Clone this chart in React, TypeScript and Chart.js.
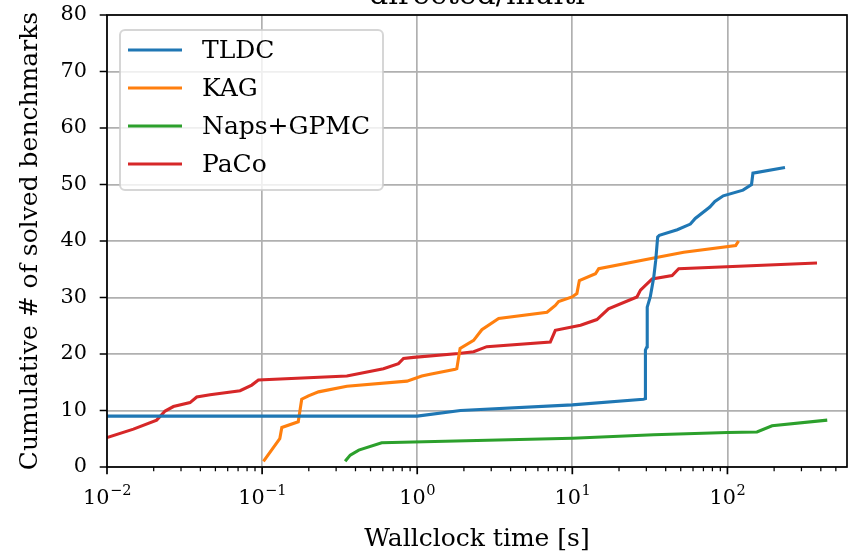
import React, { useEffect, useRef } from "react";
import { Chart, registerables } from "chart.js";

Chart.register(...registerables);

// Cumulative number of solved benchmarks over wallclock time (directed/multi)
const chartTitle = "directed/multi";
const xAxisTitle = "Wallclock time [s]";
const yAxisTitle = "Cumulative # of solved benchmarks";

const xMin = 0.01;
const xMax = 590;
const xMajorTicks = [0.01, 0.1, 1, 10, 100];
const yTicks = [0, 10, 20, 30, 40, 50, 60, 70, 80];

const seriesNames = ["TLDC", "KAG", "Naps+GPMC", "PaCo"];
const seriesColors = ["#1f77b4", "#ff7f0e", "#2ca02c", "#d62728"];

const tldcTime = [0.01, 1.0, 1.9, 10, 28.7, 29.6, 29.6, 30.3, 30.4, 31.8, 33.5, 34.5, 35.5, 36.4, 47.5, 57.7, 62, 77, 83, 94, 126, 143, 146, 235];
const tldcSolved = [9, 9, 10, 11, 12, 12.1, 20.7, 21.3, 28.3, 30.1, 33.6, 36.6, 40.7, 41, 42, 43, 44, 46, 47, 48, 49, 50, 52, 53];

const kagTime = [0.102, 0.13, 0.134, 0.171, 0.18, 0.199, 0.231, 0.352, 0.859, 1.07, 1.21, 1.76, 1.8, 1.89, 2.31, 2.61, 3.35, 6.87, 7.77, 8.16, 9.96, 10.7, 11.1, 14.1, 14.8, 36.9, 52.3, 113, 118];
const kagSolved = [1, 5, 7, 8, 12, 12.6, 13.3, 14.3, 15.2, 16.1, 16.4, 17.3, 17.4, 21, 22.4, 24.3, 26.3, 27.4, 28.6, 29.3, 30.1, 30.7, 33, 34.2, 35.1, 37.2, 38, 39.2, 40];

const napsTime = [0.343, 0.37, 0.42, 0.59, 10, 33.5, 100, 155, 194, 440];
const napsSolved = [1, 2.1, 3, 4.3, 5.1, 5.7, 6.1, 6.2, 7.3, 8.3];

const pacoTime = [0.01, 0.0148, 0.0209, 0.0237, 0.0268, 0.0343, 0.0379, 0.0462, 0.0721, 0.0858, 0.0946, 0.352, 0.606, 0.757, 0.816, 0.946, 1.85, 2.31, 2.81, 7.21, 7.77, 11.3, 14.4, 17.1, 26.1, 27.5, 32.7, 44.0, 48.5, 378];
const pacoSolved = [5.2, 6.7, 8.3, 9.9, 10.7, 11.4, 12.4, 12.8, 13.5, 14.5, 15.4, 16.1, 17.4, 18.3, 19.2, 19.4, 20.1, 20.4, 21.3, 22.1, 24.2, 25.1, 26.1, 28.0, 30.1, 31.3, 33.3, 33.9, 35.1, 36.1];

const seriesTimes = [tldcTime, kagTime, napsTime, pacoTime];
const seriesSolved = [tldcSolved, kagSolved, napsSolved, pacoSolved];

const FONT = "DejaVu Serif";
const TICK_FS = 20.8;
const LABEL_FS = 25;
const TITLE_FS = 30;
const GRID = "#b0b0b0";

const decorPlugin = {
  id: "decor",
  afterDatasetsDraw(chart: any) {
    const { ctx, chartArea: a, scales } = chart;
    const xs = scales.x;
    const ys = scales.y;
    ctx.save();

    // frame
    ctx.strokeStyle = "#000";
    ctx.lineWidth = 1.7;
    ctx.strokeRect(a.left, a.top, a.right - a.left, a.bottom - a.top);

    // major ticks
    ctx.beginPath();
    for (const v of xMajorTicks) {
      const px = xs.getPixelForValue(v);
      ctx.moveTo(px, a.bottom);
      ctx.lineTo(px, a.bottom + 7.3);
    }
    for (const v of yTicks) {
      const py = ys.getPixelForValue(v);
      ctx.moveTo(a.left, py);
      ctx.lineTo(a.left - 7.3, py);
    }
    ctx.lineWidth = 1.7;
    ctx.stroke();

    // minor log ticks
    ctx.beginPath();
    for (let e = -2; e <= 2; e++) {
      for (let m = 2; m <= 9; m++) {
        const v = m * Math.pow(10, e);
        if (v < xMin || v > xMax) continue;
        const px = xs.getPixelForValue(v);
        ctx.moveTo(px, a.bottom);
        ctx.lineTo(px, a.bottom + 4.2);
      }
    }
    ctx.lineWidth = 1.25;
    ctx.stroke();

    // x tick labels with superscript exponents
    ctx.fillStyle = "#000";
    ctx.textBaseline = "alphabetic";
    ctx.textAlign = "left";
    for (const v of xMajorTicks) {
      const e = Math.round(Math.log10(v));
      const expText = e < 0 ? "\u2212" + Math.abs(e) : String(e);
      ctx.font = `${TICK_FS}px "${FONT}"`;
      const wBase = ctx.measureText("10").width;
      ctx.font = `${TICK_FS * 0.7}px "${FONT}"`;
      const wExp = ctx.measureText(expText).width;
      const px = xs.getPixelForValue(v);
      const x0 = px - (wBase + wExp) / 2;
      const base = a.bottom + 37;
      ctx.font = `${TICK_FS}px "${FONT}"`;
      ctx.fillText("10", x0, base);
      ctx.font = `${TICK_FS * 0.7}px "${FONT}"`;
      ctx.fillText(expText, x0 + wBase + 0.5, base - 9);
    }

    // title
    ctx.font = `${TITLE_FS}px "${FONT}"`;
    ctx.textAlign = "center";
    ctx.fillText(chartTitle, (a.left + a.right) / 2, a.top - 11);

    // legend
    const lx = 120, ly = a.top + 15, lw = 263, lh = 160;
    ctx.beginPath();
    ctx.roundRect(lx, ly, lw, lh, 5);
    ctx.fillStyle = "rgba(255,255,255,0.8)";
    ctx.fill();
    ctx.strokeStyle = "rgba(204,204,204,0.8)";
    ctx.lineWidth = 2;
    ctx.stroke();
    ctx.font = `${LABEL_FS}px "${FONT}"`;
    ctx.textAlign = "left";
    ctx.textBaseline = "middle";
    seriesNames.forEach((name, i) => {
      const cy = ly + 20 + i * 38;
      ctx.beginPath();
      ctx.moveTo(lx + 8, cy);
      ctx.lineTo(lx + 62, cy);
      ctx.strokeStyle = seriesColors[i];
      ctx.lineWidth = 3.1;
      ctx.stroke();
      ctx.fillStyle = "#000";
      ctx.fillText(name, lx + 82, cy + 1);
    });

    ctx.restore();
  },
};

export default function App() {
  const canvasRef = useRef<HTMLCanvasElement | null>(null);

  useEffect(() => {
    const canvas = canvasRef.current;
    if (!canvas) return;
    const chart = new Chart(canvas, {
      type: "line",
      data: {
        datasets: seriesNames.map((name, i) => ({
          label: name,
          data: seriesTimes[i].map((t, j) => ({ x: t, y: seriesSolved[i][j] })),
          borderColor: seriesColors[i],
          backgroundColor: seriesColors[i],
          borderWidth: 3.1,
          pointRadius: 0,
          tension: 0,
          fill: false,
        })),
      },
      options: {
        responsive: false,
        animation: false,
        devicePixelRatio: 1,
        layout: { padding: { top: 45, right: 7, left: 0, bottom: 0 } },
        plugins: {
          legend: { display: false },
          tooltip: { enabled: false },
          title: { display: false },
        },
        scales: {
          x: {
            type: "logarithmic",
            position: "bottom",
            min: xMin,
            max: xMax,
            border: { display: false },
            grid: { color: GRID, lineWidth: 1.7, drawTicks: false },
            ticks: { display: false },
            afterBuildTicks: (scale: any) => {
              scale.ticks = xMajorTicks.map((v) => ({ value: v }));
            },
            afterFit: (scale: any) => {
              scale.height = 87;
            },
            title: {
              display: true,
              text: xAxisTitle,
              color: "#000",
              font: { family: FONT, size: LABEL_FS },
              padding: { top: 0, bottom: 0 },
            },
          },
          y: {
            type: "linear",
            min: 0,
            max: 80,
            border: { display: false },
            grid: { color: GRID, lineWidth: 1.7, drawTicks: false },
            ticks: {
              stepSize: 10,
              color: "#000",
              font: { family: FONT, size: TICK_FS },
              padding: 20,
            },
            afterFit: (scale: any) => {
              scale.width = 107;
            },
            title: {
              display: true,
              text: yAxisTitle,
              color: "#000",
              font: { family: FONT, size: LABEL_FS },
              padding: { top: 15, bottom: 0 },
            },
          },
        },
      },
      plugins: [decorPlugin],
    });
    return () => chart.destroy();
  }, []);

  return (
    <div style={{ position: "absolute", left: 0, top: -30, width: 854, height: 584 }}>
      <canvas ref={canvasRef} width={854} height={584} style={{ display: "block" }} />
    </div>
  );
}
